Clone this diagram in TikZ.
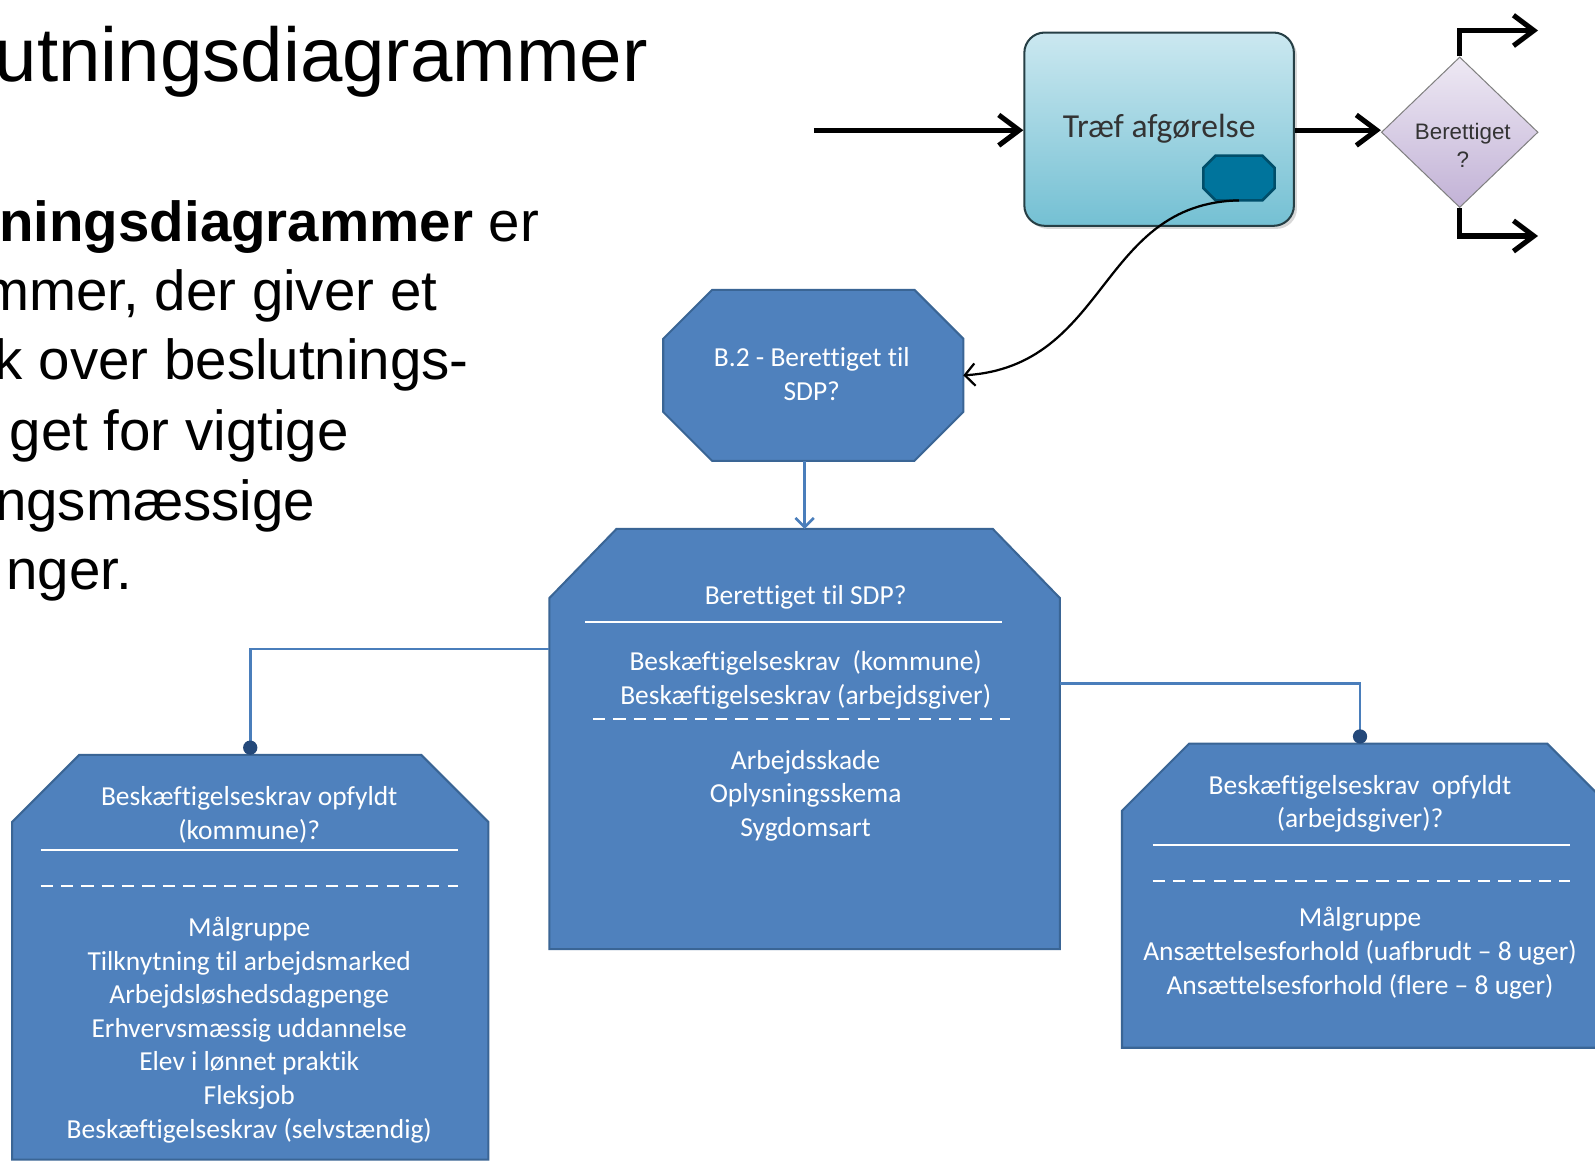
\documentclass[tikz,border=0pt]{standalone}
\usepackage{fontspec}
\setmainfont[Ligatures=NoCommon]{Carlito}
\newfontfamily\slidefont{Liberation Sans}
\usetikzlibrary{positioning,shapes.geometric,arrows.meta,shadows}

\definecolor{boxblue}{HTML}{4F81BD}
\definecolor{boxedge}{HTML}{3A6595}
\definecolor{linkblue}{HTML}{4A7EBB}
\definecolor{dotblue}{HTML}{24497A}
\definecolor{tasktop}{HTML}{CBE8F0}
\definecolor{taskbot}{HTML}{74C0D3}
\definecolor{taskedge}{HTML}{263F45}
\definecolor{gatetop}{HTML}{EEE9F4}
\definecolor{gatebot}{HTML}{C2B2D6}
\definecolor{subfill}{HTML}{00749C}
\definecolor{subedge}{HTML}{004E6A}

\tikzset{
  slidetxt/.style={anchor=base east, inner sep=0pt, font=\slidefont\fontsize{55.5}{68}\selectfont},
  boxframe/.style={rectangle, inner sep=0pt, outer sep=0pt},
  boxshape/.style={draw=boxedge, line width=2pt, fill=boxblue, line join=miter},
  boxtext/.style={text=white, align=center, font=\fontsize{27}{33}\selectfont},
  rule/.style={draw=white, line width=2pt},
  dashrule/.style={draw=white, line width=2pt, dash pattern=on 12pt off 8pt},
  link/.style={draw=linkblue, line width=2.5pt},
  flow/.style={line width=5pt, -{Straight Barb[length=20pt,width=30pt]}},
  dotend/.style={-{Circle[length=14pt,color=dotblue]}},
}

\begin{document}
\begin{tikzpicture}[x=1pt, y=-1pt]
\path[fill=white, use as bounding box] (0,0) rectangle (1568,1142);

% slide text, cut at the left edge
\node[anchor=base east, inner sep=0pt, font=\slidefont\fontsize{75}{80}\selectfont] (title) at (637,80) {utningsdiagrammer};
\node[slidetxt] (line1) at (530,237) {\textbf{ningsdiagrammer} er};
\node[slidetxt] (line2) at (430,305) {mmer, der giver et};
\node[slidetxt] (line3) at (461,373) {k over beslutnings-};
\node[slidetxt] (line4) at (343,443) {get for vigtige};
\node[slidetxt] (line5) at (310,512) {ngsmæssige};
\node[slidetxt] (line6) at (130,580) {nger.};

% process step and decision
\node[rectangle, rounded corners=20pt, draw=taskedge, line width=2pt, top color=tasktop, bottom color=taskbot,
      drop shadow={shadow xshift=3pt, shadow yshift=-3pt, opacity=0.3},
      minimum width=265pt, minimum height=190pt, text=black!80, font=\fontsize{33}{36}\selectfont] (task) at (1139.5,127) {Træf afgørelse};
\node[boxframe, minimum width=70pt, minimum height=44pt] (sub) at (1218,175) {};
\filldraw[draw=subedge, fill=subfill, line width=2.5pt]
  ([xshift=12pt]sub.north west) -- ([xshift=-12pt]sub.north east) -- ([yshift=-12pt]sub.north east)
  -- ([yshift=12pt]sub.south east) -- ([xshift=-12pt]sub.south east) -- ([xshift=12pt]sub.south west)
  -- ([yshift=12pt]sub.south west) -- ([yshift=-12pt]sub.north west) -- cycle;
\node[diamond, draw=gray, line width=1pt, top color=gatetop, bottom color=gatebot, inner sep=0pt,
      minimum width=154pt, minimum height=148pt] (dec) at (1435,130) {};
\node[align=center, text=black!80, font=\slidefont\fontsize{22}{27}\selectfont] (dectext) at (1438,143) {Berettiget\\?};
\coordinate (start) at (800,128);
\coordinate (yes) at (1512,30);
\coordinate (no) at (1512,232);
\draw[flow] (start) -- (start -| task.west);
\draw[flow] (task.east |- start) -- (start -| dec.west);
\draw[flow] (dec.north) |- (yes);
\draw[flow] (dec.south) |- (no);

% decision diagram: frames first, then their outlines, then the texts
\node[boxframe, minimum width=295pt, minimum height=168pt] (b2) at (799.5,369) {};
\node[boxframe, minimum width=502pt, minimum height=413pt] (mid) at (791,726.5) {};
\node[boxframe, minimum width=468pt, minimum height=398pt] (lbox) at (246,941) {};
\node[boxframe, minimum width=484pt, minimum height=299pt] (rbox) at (1345,880.5) {};

\filldraw[boxshape]
  ([xshift=48pt]b2.north west) -- ([xshift=-48pt]b2.north east) -- ([yshift=-48pt]b2.north east)
  -- ([yshift=48pt]b2.south east) -- ([xshift=-48pt]b2.south east) -- ([xshift=48pt]b2.south west)
  -- ([yshift=48pt]b2.south west) -- ([yshift=-48pt]b2.north west) -- cycle;
\filldraw[boxshape] (mid.south west) -- ([yshift=-68pt]mid.north west) -- ([xshift=66pt]mid.north west)
  -- ([xshift=-66pt]mid.north east) -- ([yshift=-68pt]mid.north east) -- (mid.south east) -- cycle;
\filldraw[boxshape] (lbox.south west) -- ([yshift=-66pt]lbox.north west) -- ([xshift=66pt]lbox.north west)
  -- ([xshift=-66pt]lbox.north east) -- ([yshift=-66pt]lbox.north east) -- (lbox.south east) -- cycle;
\filldraw[boxshape] (rbox.south west) -- ([yshift=-66pt]rbox.north west) -- ([xshift=66pt]rbox.north west)
  -- ([xshift=-66pt]rbox.north east) -- ([yshift=-66pt]rbox.north east) -- (rbox.south east) -- cycle;

\node[boxtext] (b2text) at (798,367.5) {B.2 - Berettiget til\\SDP?};

\node[boxtext] (midhead) at (792,587) {Berettiget til SDP?};
\node[boxtext] (midrules) at (792,668.5) {Beskæftigelseskrav\ \ (kommune)\\Beskæftigelseskrav (arbejdsgiver)};
\node[boxtext] (midinfo) at (792,782) {Arbejdsskade\\Oplysningsskema\\Sygdomsart};
\draw[rule] (575,611) -- (985,611);
\draw[dashrule] (583,707) -- (993,707);

\node[boxtext] (lhead) at (245,801) {Beskæftigelseskrav opfyldt\\(kommune)?};
\node[boxtext] (linfo) at (245,1012.5) {Målgruppe\\Tilknytning til arbejdsmarked\\Arbejdsløshedsdagpenge\\Erhvervsmæssig uddannelse\\Elev i lønnet praktik\\Fleksjob\\Beskæftigelseskrav (selvstændig)};
\draw[rule] (40,836) -- (450,836);
\draw[dashrule] (40,871) -- (450,871);

\node[boxtext] (rhead) at (1337,790) {Beskæftigelseskrav\ \ opfyldt\\(arbejdsgiver)?};
\node[boxtext] (rinfo) at (1337,937) {Målgruppe\\Ansættelsesforhold (uafbrudt -- 8 uger)\\Ansættelsesforhold (flere -- 8 uger)};
\draw[rule] (1133,831) -- (1543,831);
\draw[dashrule] (1133,866) -- (1543,866);

% connectors
\draw[line width=2.2pt, -{Straight Barb[length=10pt,width=22pt]}] (sub.south) .. controls (1080,200) and (1090,360) .. (b2.east);
\draw[link, -{Straight Barb[length=9pt,width=18pt]}] (mid.north |- b2.south) -- (mid.north);
\draw[link, dotend] ([yshift=88.5pt]mid.west) -| (lbox.north);
\draw[link, dotend] ([yshift=54.5pt]mid.east) -| ([xshift=-8pt]rbox.north);
\end{tikzpicture}
\end{document}
